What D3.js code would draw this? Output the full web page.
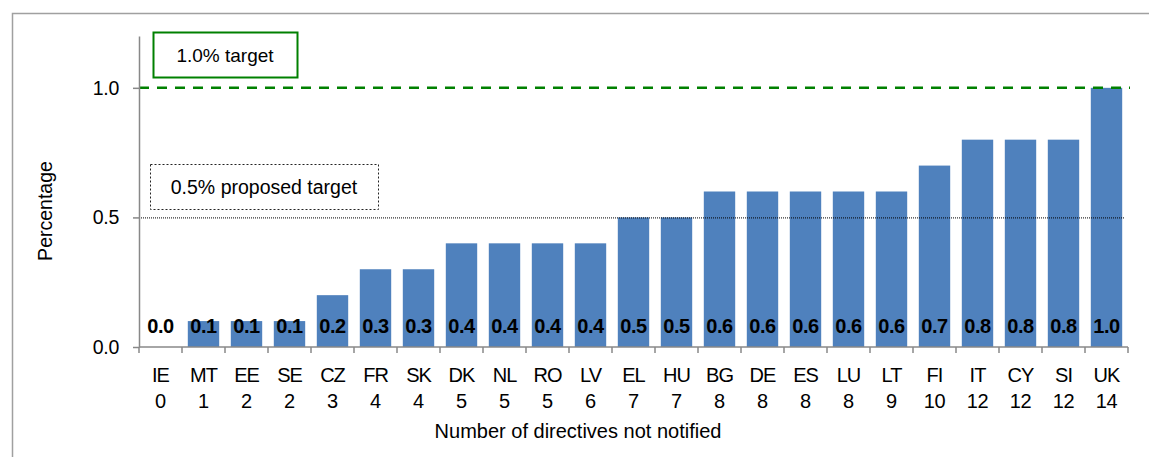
<!DOCTYPE html>
<html>
<head>
<meta charset="utf-8">
<script src="https://cdn.jsdelivr.net/npm/d3@7"></script>
<style>
	body { margin: 0; background: #fff; }
	svg { display: block; font-family: "Liberation Sans", Arial, sans-serif; }
</style>
</head>
<body>
<main></main>
<script>
// country codes, directives not notified, and deficit percentage
const countries = ["IE","MT","EE","SE","CZ","FR","SK","DK","NL","RO","LV","EL","HU","BG","DE","ES","LU","LT","FI","IT","CY","SI","UK"];
const directives = [0,1,2,2,3,4,4,5,5,5,6,7,7,8,8,8,8,9,10,12,12,12,14];
const percentages = [0.0,0.1,0.1,0.1,0.2,0.3,0.3,0.4,0.4,0.4,0.4,0.5,0.5,0.6,0.6,0.6,0.6,0.6,0.7,0.8,0.8,0.8,1.0];
const yTicks = [0, 0.5, 1.0];
const targets = [1.0, 0.5];

const w = 1149,
	h = 457,
	margin = {top: 36, right: 21, bottom: 110, left: 139};

const dataset = countries.map((c,i) => ({country: c, n: directives[i], pct: percentages[i]}));

const svg = d3.select("main")
	.append("svg")
	.attr("width", w)
	.attr("height", h);

// outer frame (top and left edges only visible)
svg.append("path")
	.attr("d", "M12.5," + h + "V13.5H" + w)
	.attr("fill", "none")
	.attr("stroke", "#a0a0a0")
	.attr("stroke-width", 1.5);

const xScale = d3.scaleBand()
	.domain(countries)
	.range([margin.left, w - margin.right])
	.paddingInner(0.27)
	.paddingOuter(0.135);

const yScale = d3.scaleLinear()
	.domain([0, 1.2])
	.range([h - margin.bottom, margin.top]);

const y0 = yScale(0);

// bars
svg.selectAll("rect.bar")
	.data(dataset)
	.enter()
	.append("rect")
	.attr("class", "bar")
	.attr("x", d => xScale(d.country))
	.attr("y", d => yScale(d.pct))
	.attr("width", xScale.bandwidth())
	.attr("height", d => y0 - yScale(d.pct))
	.attr("fill", "#4f81bd");

// target lines
svg.append("line")
	.attr("x1", margin.left)
	.attr("x2", w - margin.right + 2)
	.attr("y1", yScale(targets[0]))
	.attr("y2", yScale(targets[0]))
	.attr("stroke", "#008000")
	.attr("stroke-width", 2.5)
	.attr("stroke-dasharray", "10,8");

svg.append("line")
	.attr("x1", margin.left)
	.attr("x2", w - margin.right - 4)
	.attr("y1", yScale(targets[1]) + 0.5)
	.attr("y2", yScale(targets[1]) + 0.5)
	.attr("stroke", "#000")
	.attr("stroke-width", 1)
	.attr("stroke-dasharray", "1,1");

// value labels
svg.selectAll("text.val")
	.data(dataset)
	.enter()
	.append("text")
	.attr("class", "val")
	.attr("x", d => xScale(d.country) + xScale.bandwidth()/2)
	.attr("y", 333)
	.attr("text-anchor", "middle")
	.style("font-size", "20px")
	.style("font-weight", "bold")
	.style("letter-spacing", "-0.4px")
	.text(d => d.pct.toFixed(1));

// y axis
const yAxis = d3.axisLeft(yScale)
	.tickValues(yTicks)
	.tickFormat(d3.format(".1f"))
	.tickSize(6)
	.tickSizeOuter(0);
const gy = svg.append("g")
	.attr("transform", "translate(" + margin.left + ",0)")
	.call(yAxis);
gy.select(".domain").attr("stroke", "#888").attr("stroke-width", 1.5);
gy.selectAll(".tick line").attr("stroke", "#888").attr("stroke-width", 1.5);
gy.selectAll(".tick text")
	.attr("x", -20)
	.style("font-size", "19.5px")
	.style("letter-spacing", "-0.3px")
	.attr("fill", "#000");

// x axis: ticks between categories
svg.append("line")
	.attr("x1", margin.left)
	.attr("x2", w - margin.right)
	.attr("y1", y0)
	.attr("y2", y0)
	.attr("stroke", "#888")
	.attr("stroke-width", 1.5);

const step = xScale.step();
svg.selectAll("line.xtick")
	.data(d3.range(countries.length + 1))
	.enter()
	.append("line")
	.attr("class", "xtick")
	.attr("x1", i => margin.left + i * step)
	.attr("x2", i => margin.left + i * step)
	.attr("y1", y0)
	.attr("y2", y0 + 6)
	.attr("stroke", "#888")
	.attr("stroke-width", 1.5);

const lbl = svg.selectAll("g.xlbl")
	.data(dataset)
	.enter()
	.append("g")
	.attr("class", "xlbl")
	.attr("transform", d => "translate(" + (xScale(d.country) + xScale.bandwidth()/2) + ",0)");
lbl.append("text")
	.attr("y", 382)
	.attr("text-anchor", "middle")
	.style("font-size", "20px")
	.style("letter-spacing", "-1px")
	.text(d => d.country);
lbl.append("text")
	.attr("y", 408)
	.attr("text-anchor", "middle")
	.style("font-size", "20px")
	.style("letter-spacing", "-0.3px")
	.text(d => d.n);

// axis titles
svg.append("text")
	.attr("x", 578)
	.attr("y", 438)
	.attr("text-anchor", "middle")
	.style("font-size", "20px")
	.text("Number of directives not notified");

svg.append("text")
	.attr("transform", "rotate(-90)")
	.attr("x", -211)
	.attr("y", 52)
	.attr("text-anchor", "middle")
	.style("font-size", "19.5px")
	.text("Percentage");

// annotation boxes
svg.append("rect")
	.attr("x", 153.5)
	.attr("y", 32.5)
	.attr("width", 144)
	.attr("height", 45)
	.attr("fill", "#fff")
	.attr("stroke", "#008000")
	.attr("stroke-width", 2);
svg.append("text")
	.attr("x", 225)
	.attr("y", 62)
	.attr("text-anchor", "middle")
	.style("font-size", "19px")
	.text("1.0% target");

svg.append("rect")
	.attr("x", 150.5)
	.attr("y", 164.5)
	.attr("width", 228)
	.attr("height", 45)
	.attr("fill", "#fff")
	.attr("stroke", "#222")
	.attr("stroke-width", 1)
	.attr("stroke-dasharray", "2,2");
svg.append("text")
	.attr("x", 264)
	.attr("y", 194)
	.attr("text-anchor", "middle")
	.style("font-size", "19.5px")
	.text("0.5% proposed target");
</script>
</body>
</html>
